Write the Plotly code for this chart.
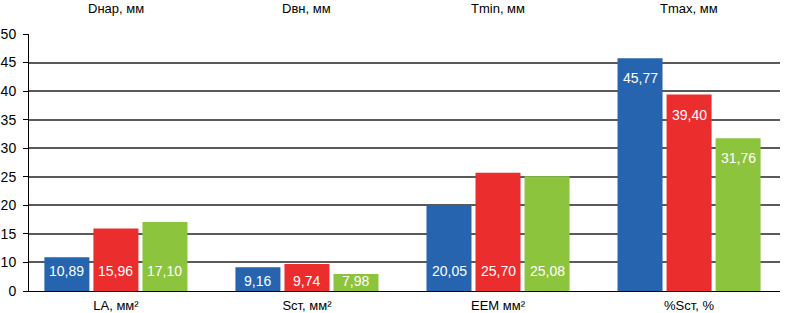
import plotly.graph_objects as go

categories = ["LA, мм²", "Sст, мм²", "ЕЕМ мм²", "%Sст, %"]
top_labels = ["Dнар, мм", "Dвн, мм", "Tmin, мм", "Tmax, мм"]
series_names = ["Серия 1", "Серия 2", "Серия 3"]
blue_vals = [10.89, 9.16, 20.05, 45.77]
red_vals = [15.96, 9.74, 25.70, 39.40]
green_vals = [17.10, 7.98, 25.08, 31.76]
tick_vals = [5, 10, 15, 20, 25, 30, 35, 40, 45, 50]
tick_text = ["0", "10", "15", "20", "25", "30", "35", "40", "45", "50"]

colors = ["#2664b0", "#ec2d2d", "#8dc43e"]
series = [blue_vals, red_vals, green_vals]

REG = "Liberation Sans, Arial, sans-serif"

fig = go.Figure()
for name, vals, col in zip(series_names, series, colors):
    fig.add_trace(go.Bar(x=categories, y=vals, name=name,
                         marker=dict(color=col, line=dict(width=0)),
                         hoverinfo="x+y"))

def fmt(v):
    return f"{v:.2f}".replace(".", ",")

annotations = []
offsets = [-49, 0, 49]
for si, vals in enumerate(series):
    for ci, v in enumerate(vals):
        if v > 30:
            annotations.append(dict(x=categories[ci], y=v, xref="x", yref="y",
                                    xshift=offsets[si], yshift=-10, yanchor="top",
                                    text=fmt(v), showarrow=False,
                                    font=dict(family=REG, size=14, color="white")))
        else:
            annotations.append(dict(x=categories[ci], y=0, xref="x", yref="y domain",
                                    xshift=offsets[si], yshift=(0 if v < 10 else 10),
                                    yanchor="bottom",
                                    text=fmt(v), showarrow=False,
                                    font=dict(family=REG, size=14, color="white")))
for ci, t in enumerate(top_labels):
    annotations.append(dict(x=categories[ci], y=1, xref="x", yref="paper",
                            yanchor="middle", yshift=26, text=t, showarrow=False,
                            font=dict(family=REG, size=13, color="black")))

fig.update_layout(
    width=785, height=313,
    margin=dict(l=29, r=5, t=34, b=22),
    paper_bgcolor="white", plot_bgcolor="white",
    barmode="group", bargap=0.23, bargroupgap=0.082,
    showlegend=False,
    annotations=annotations,
    font=dict(family=REG, color="black"),
)
fig.update_xaxes(type="category", range=[-0.455, 3.476], automargin=False,
                 showline=True, linecolor="black", linewidth=1,
                 ticks="", showgrid=False,
                 tickfont=dict(family=REG, size=13, color="black"),
                 ticklabelstandoff=2)
fig.update_yaxes(range=[5, 50], tickvals=tick_vals, ticktext=tick_text,
                 automargin=False,
                 showline=True, linecolor="black", linewidth=1,
                 ticks="outside", ticklen=5, tickcolor="black",
                 showgrid=True, gridcolor="#5a5a5a", gridwidth=1.5,
                 zeroline=False,
                 tickfont=dict(family=REG, size=14, color="black"),
                 ticklabelstandoff=4)

fig.write_html("out.html", config={"displayModeBar": False},
               post_script="document.body.style.margin='0';document.body.style.overflow='hidden';")
